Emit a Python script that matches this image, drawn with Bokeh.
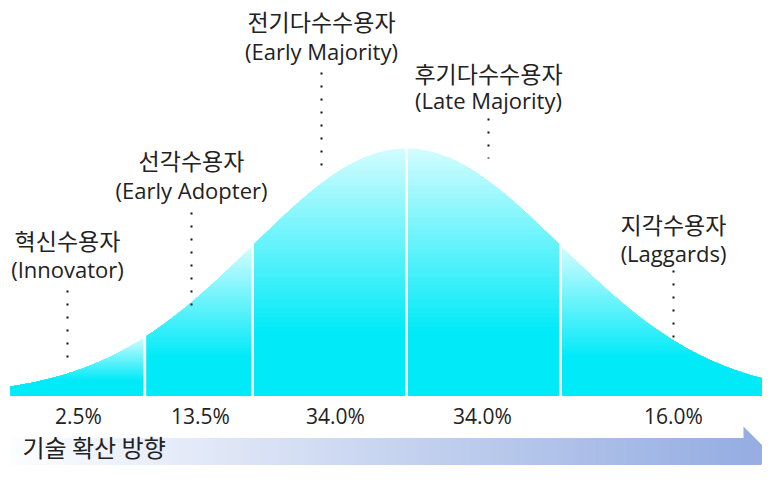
import numpy as np
from bokeh.plotting import figure
from bokeh.models import Range1d
from bokeh.core.properties import value
from bokeh.embed import file_html
from bokeh.resources import INLINE

# ---------------- data ----------------
segment_edges = [-2.57, -1.70, -1.00, 0.00, 1.00, 2.45]   # adopter-group boundaries (std. deviations)
shares = ["2.5%", "13.5%", "34.0%", "34.0%", "16.0%"]
groups_ko = ["혁신수용자", "선각수용자", "전기다수수용자", "후기다수수용자", "지각수용자"]
groups_en = ["(Innovator)", "(Early Adopter)", "(Early Majority)", "(Late Majority)", "(Laggards)"]
direction_label = "기술 확산 방향"

# ---------------- layout (screen pixels) ----------------
W, H = 762, 465
MEAN_PX, SIGMA_PX, BASE_PX, PEAK_PX = 406, 154, 395, 247
label_x = [67, 191, 321, 488, 673]
label_ko_y = [239, 159, 20, 72, 223]
label_en_y = [268, 189, 50, 99, 252]
leader_top = [290, 212, 72, 118, 270]
leader_bot = [358, 307, 168, 158, 338]
share_x = [78, 200, 335, 482, 673]
share_y = 415
arrow_x0, arrow_x1, arrow_tip = 10, 743, 771
shaft_top, shaft_bot, head_top, head_bot = 438, 466, 426, 482

def X(px):
    return (px - MEAN_PX) / SIGMA_PX

def Y(py):
    return (BASE_PX - py) / PEAK_PX

LIGHT = np.array([208, 252, 255])
CYAN = np.array([0, 234, 248])

def hexcol(c):
    c = np.clip(np.round(c), 0, 255).astype(int)
    return "#%02x%02x%02x" % tuple(c)

p = figure(width=W, height=H, output_backend="svg", toolbar_location=None,
           x_range=Range1d(X(0), X(W)), y_range=Range1d(Y(H), Y(0)),
           min_border=0)
p.xaxis.visible = False
p.yaxis.visible = False
p.grid.visible = False
p.outline_line_color = None
p.background_fill_color = "white"
p.border_fill_color = "white"

# ---------------- bell curve with per-segment vertical gradient ----------------
xs_all, ys_all, cols = [], [], []
K = 40
STOP = 0.74
for i in range(len(shares)):
    xs = np.linspace(segment_edges[i], segment_edges[i + 1], 200)
    ys = np.exp(-xs ** 2 / 2.0)
    top = ys.max()
    for k in range(K + 1):
        f = STOP * k / K
        level = top * (1 - f)
        t = min(f / STOP, 1.0)
        col = LIGHT + (CYAN - LIGHT) * t
        xs_all.append(np.concatenate([xs, xs[::-1]]).tolist())
        ys_all.append(np.concatenate([np.minimum(ys, level), np.zeros_like(xs)]).tolist())
        cols.append(hexcol(col))
p.patches(xs_all, ys_all, fill_color=cols, line_color=None)

# white separators between groups
inner = segment_edges[1:-1]
p.segment(x0=inner, y0=[-0.01] * len(inner), x1=inner,
          y1=[float(np.exp(-b ** 2 / 2.0)) + 0.01 for b in inner],
          line_color="white", line_width=3)

# ---------------- dotted leader lines ----------------
p.segment(x0=[X(v) for v in label_x], y0=[Y(v) for v in leader_top],
          x1=[X(v) for v in label_x], y1=[Y(v) for v in leader_bot],
          line_color="#111111", line_width=2, line_dash="2 11")

# ---------------- labels ----------------
p.text(x=[X(v) for v in label_x], y=[Y(v) for v in label_ko_y], text=groups_ko,
       text_font=value("Noto Sans CJK KR"), text_font_size="23px",
       text_align="center", text_baseline="middle", text_color="#222222")
p.text(x=[X(v) for v in label_x], y=[Y(v) for v in label_en_y], text=groups_en,
       text_font=value("Open Sans"), text_font_size="22px",
       text_align="center", text_baseline="middle", text_color="#222222")
p.text(x=[X(v) for v in share_x], y=[Y(share_y)] * len(share_x), text=shares,
       text_font=value("Open Sans"), text_font_size="21px",
       text_align="center", text_baseline="middle", text_color="#222222")

# ---------------- direction arrow ----------------
N = 150
A_LEFT = np.array([252, 253, 255])
A_RIGHT = np.array([150, 174, 226])
lefts = np.linspace(arrow_x0, arrow_x1, N + 1)[:-1]
qcols = [hexcol(A_LEFT + (A_RIGHT - A_LEFT) * (j / (N - 1))) for j in range(N)]
p.quad(left=[X(v) for v in lefts], right=[X(arrow_x1 + 0.5)] * N,
       top=[Y(shaft_top)] * N, bottom=[Y(shaft_bot)] * N,
       fill_color=qcols, line_color=None)
p.patch([X(arrow_x1), X(arrow_x1), X(arrow_tip)],
        [Y(head_top), Y(head_bot), Y((head_top + head_bot) / 2)],
        fill_color=hexcol(A_RIGHT), line_color=None)
p.text(x=[X(22)], y=[Y(446)], text=[direction_label],
       text_font=value("Noto Sans CJK KR"), text_font_size="24px",
       text_align="left", text_baseline="middle", text_color="#222222")

open("out.html", "w").write(file_html(p, INLINE))
